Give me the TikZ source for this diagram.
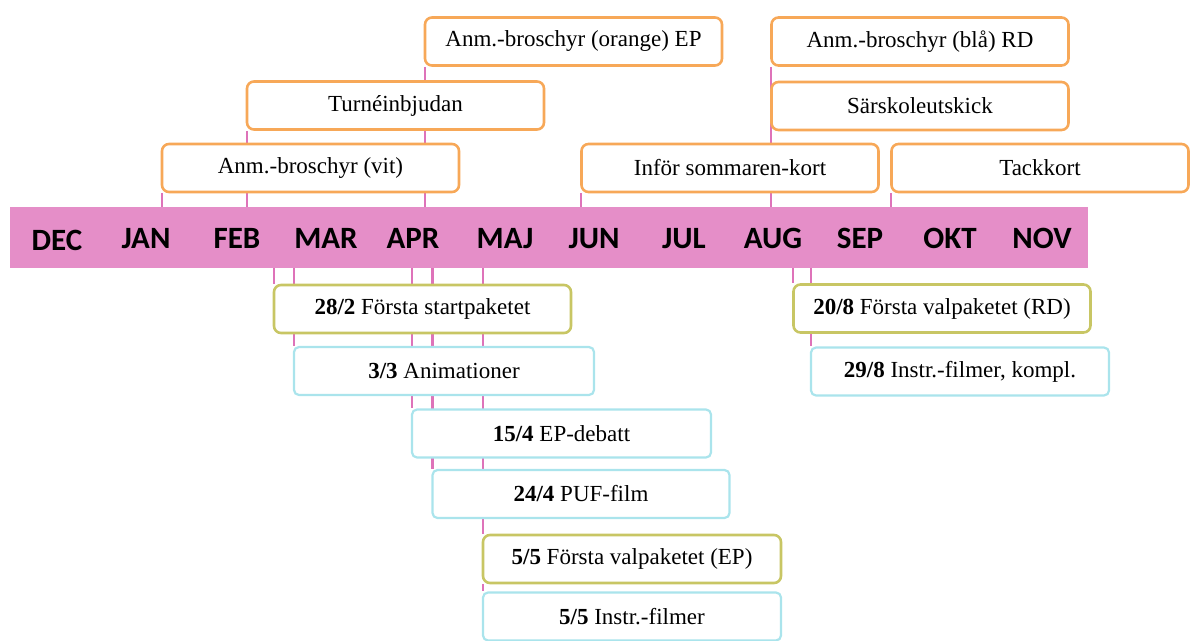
\documentclass[tikz,border=0pt]{standalone}
\usepackage{fontspec}
\setmainfont{Liberation Serif}
\newfontfamily\monthfont{Carlito}
\usetikzlibrary{backgrounds}
\definecolor{barpink}{RGB}{229,142,200}
\definecolor{linepink}{RGB}{222,115,185}
\definecolor{boxorange}{RGB}{247,168,88}
\definecolor{boxolive}{RGB}{200,198,100}
\definecolor{boxcyan}{RGB}{170,228,236}
\tikzset{
  evbox/.style={draw, line width=2.6pt, rounded corners=7pt, fill=white,
    minimum width=297pt, minimum height=48pt, inner sep=0pt,
    font=\fontsize{23}{25}\selectfont},
  topbox/.style={evbox, draw=boxorange},
  olivebox/.style={evbox, draw=boxolive},
  cyanbox/.style={evbox, draw=boxcyan, line width=2.2pt, rounded corners=5pt},
  bar/.style={fill=barpink, draw=none, minimum width=1078pt, minimum height=61pt, inner sep=0pt},
  month/.style={font=\monthfont\bfseries\fontsize{31}{32}\selectfont, inner sep=0pt, anchor=base},
  conn/.style={draw=linepink, line width=2.2pt},
}
\begin{document}
\begin{tikzpicture}[x=1pt,y=-1pt]
\useasboundingbox (0,0) rectangle (1198,640);
% timeline bar
\node[bar] (bar) at (549,237.5) {};
\node[month] (dec) at (57,250) {DEC};
\node[month] (jan) at (146,248) {JAN};
\node[month] (feb) at (237,248) {FEB};
\node[month] (mar) at (326,248) {MAR};
\node[month] (apr) at (413,248) {APR};
\node[month] (maj) at (505,248) {MAJ};
\node[month] (jun) at (594,248) {JUN};
\node[month] (jul) at (684,248) {JUL};
\node[month] (aug) at (773,248) {AUG};
\node[month] (sep) at (860,248) {SEP};
\node[month] (okt) at (950,248) {OKT};
\node[month] (nov) at (1042,248) {NOV};
% top boxes
\node[topbox] (orange) at (573.5,41.5) {Anm.-broschyr (orange) EP};
\node[topbox] (turne) at (395.5,105.5) {Turnéinbjudan};
\node[topbox] (vit) at (310.5,168) {Anm.-broschyr (vit)};
\node[topbox] (infor) at (730,168) {Inför sommaren-kort};
\node[topbox] (bla) at (920,41.5) {Anm.-broschyr (blå) RD};
\node[topbox] (sarsk) at (920,106) {Särskoleutskick};
\node[topbox] (tack) at (1040,168) {Tackkort};
% bottom boxes
\node[olivebox] (start) at (422.5,309) {\textbf{28/2} Första startpaketet};
\node[cyanbox, minimum width=300pt] (anim) at (444,371) {\textbf{3/3} Animationer};
\node[cyanbox, minimum width=299pt] (debatt) at (561.5,433.5) {\textbf{15/4} EP-debatt};
\node[cyanbox] (puf) at (581,494) {\textbf{24/4} PUF-film};
\node[olivebox, minimum width=298pt] (valep) at (632,559) {\textbf{5/5} Första valpaketet (EP)};
\node[cyanbox, minimum width=298pt] (instr) at (632,616.5) {\textbf{5/5} Instr.-filmer};
\node[olivebox] (valrd) at (942,308.5) {\textbf{20/8} Första valpaketet (RD)};
\node[cyanbox, minimum width=298pt] (kompl) at (960,371.5) {\textbf{29/8} Instr.-filmer, kompl.};
% connectors
\begin{pgfonlayer}{background}
\draw[conn] ([xshift=1pt]vit.south west) -- ([xshift=1pt]vit.south west |- bar.north);
\draw[conn] ([xshift=1pt]turne.south west) -- ([xshift=1pt]turne.south west |- bar.north);
\draw[conn] ([xshift=1pt]orange.south west) -- ([xshift=1pt]orange.south west |- bar.north);
\draw[conn] ([xshift=1pt]infor.south west) -- ([xshift=1pt]infor.south west |- bar.north);
\draw[conn] ([xshift=1pt]bla.south west) -- ([xshift=1pt]bla.south west |- bar.north);
\draw[conn] ([xshift=1pt]tack.south west) -- ([xshift=1pt]tack.south west |- bar.north);
\draw[conn] ([xshift=1pt]start.north west |- bar.south) -- ([xshift=1pt]start.north west);
\draw[conn] ([xshift=1pt]anim.north west |- bar.south) -- ([xshift=1pt]anim.north west);
\draw[conn] ([xshift=1pt]debatt.north west |- bar.south) -- ([xshift=1pt]debatt.north west);
\draw[conn] ([xshift=1pt]puf.north west |- bar.south) -- ([xshift=1pt]puf.north west);
\draw[conn] ([xshift=1pt]valep.north west |- bar.south) -- ([xshift=1pt]valep.north west);
\draw[conn] ([xshift=1pt]instr.north west |- valep.south) -- ([xshift=1pt]instr.north west);
\draw[conn] ([xshift=1pt]valrd.north west |- bar.south) -- ([xshift=1pt]valrd.north west);
\draw[conn] ([xshift=1pt]kompl.north west |- bar.south) -- ([xshift=1pt]kompl.north west);
\end{pgfonlayer}
\end{tikzpicture}
\end{document}
